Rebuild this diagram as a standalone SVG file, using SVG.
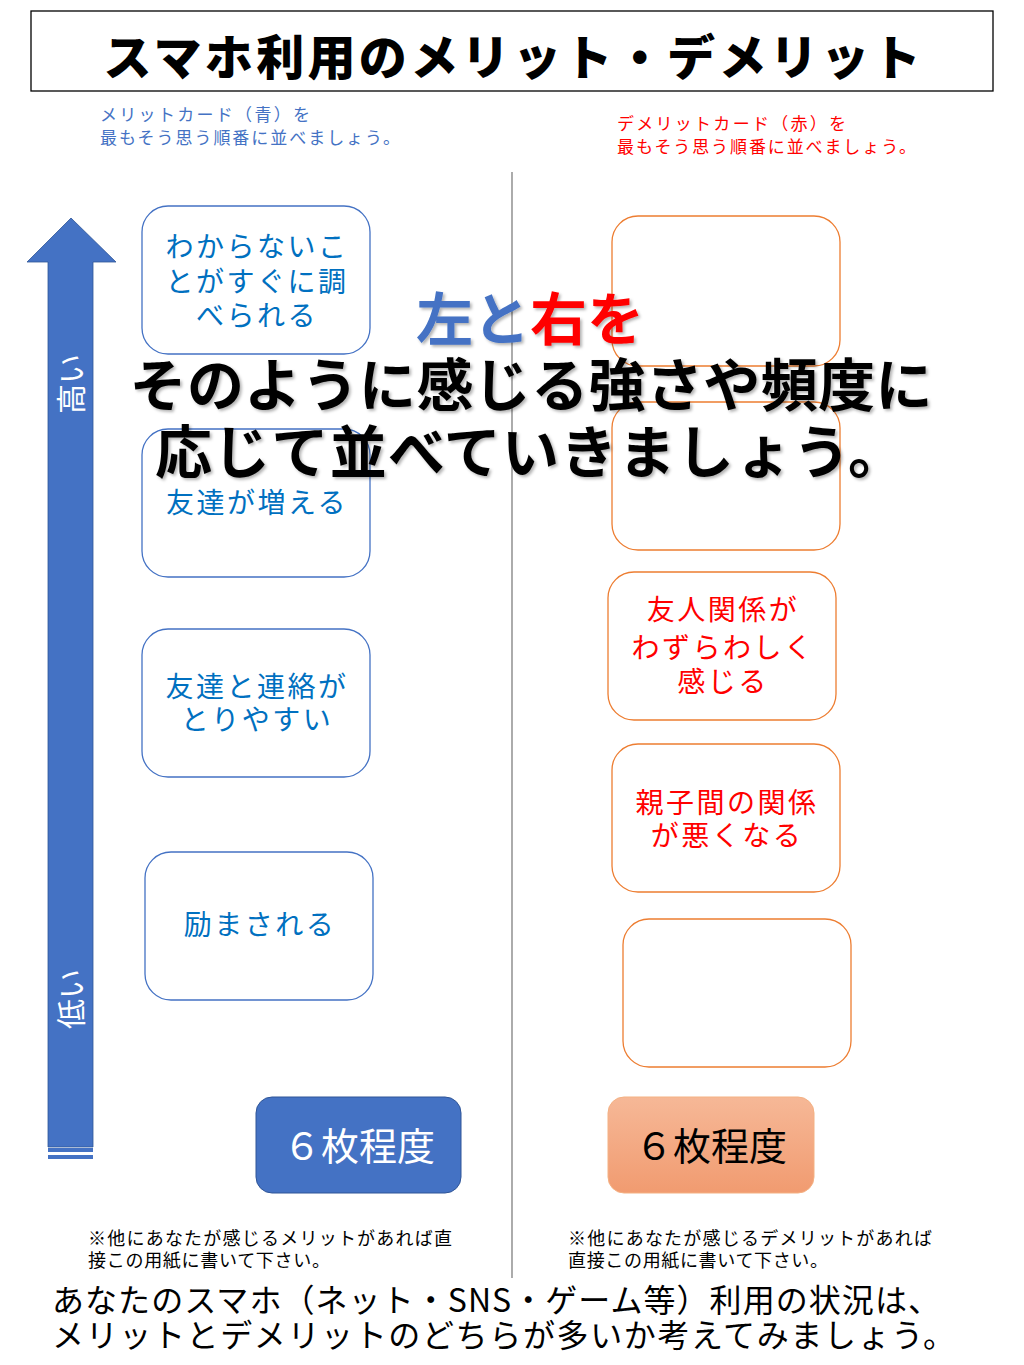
<svg xmlns="http://www.w3.org/2000/svg" width="1024" height="1365" viewBox="0 0 1024 1365">
<style>
text{font-family:"Noto Sans CJK JP","Noto Sans CJK SC",sans-serif;}
.card-b{fill:#fff;stroke:#4472C4;stroke-width:1.3;}
.card-r{fill:#fff;stroke:#ED7D31;stroke-width:1.3;}
.tb{fill:#0070C0;font-size:28px;text-anchor:middle;letter-spacing:2.5px;}
.tr{fill:#FF0000;font-size:28px;text-anchor:middle;letter-spacing:2.5px;}
.note{fill:#000;font-size:18px;}
.big{font-size:57px;font-weight:700;text-anchor:middle;}
</style>
<defs>
<linearGradient id="og" x1="0" y1="0" x2="0" y2="1">
<stop offset="0" stop-color="#F6B897"/>
<stop offset="1" stop-color="#F19B70"/>
</linearGradient>
<filter id="sh" x="-5%" y="-20%" width="110%" height="140%">
<feDropShadow dx="2" dy="2" stdDeviation="1.5" flood-color="#000" flood-opacity="0.3"/>
</filter>
</defs>
<rect width="1024" height="1365" fill="#fff"/>

<g id="title">
<rect x="31" y="11" width="962" height="80" fill="#fff" stroke="#000" stroke-width="1.3"/>
<text x="512" y="75" font-size="48" font-weight="900" text-anchor="middle" textLength="817" lengthAdjust="spacing">スマホ利用のメリット・デメリット</text>
</g>

<g id="instr-left" fill="#4472C4" font-size="17">
<text x="100" y="121" textLength="210" lengthAdjust="spacing">メリットカード（青）を</text>
<text x="100" y="144" textLength="300" lengthAdjust="spacing">最もそう思う順番に並べましょう。</text>
</g>
<g id="instr-right" fill="#FF0000" font-size="17">
<text x="617" y="130" textLength="229" lengthAdjust="spacing">デメリットカード（赤）を</text>
<text x="617" y="153" textLength="299" lengthAdjust="spacing">最もそう思う順番に並べましょう。</text>
</g>

<g id="divider">
<line x1="512" y1="172" x2="512" y2="1278" stroke="#7f7f7f" stroke-width="1.3"/>
</g>

<g id="axis-arrow">
<polygon points="71,218 116,262 93,262 93,1147 48,1147 48,262 27,262" fill="#4472C4" stroke="#2F5597" stroke-width="0.8"/>
<rect x="48" y="1148" width="45" height="4" fill="#4472C4"/>
<rect x="48" y="1155" width="45" height="4" fill="#4472C4"/>
<text transform="translate(82,384) rotate(-90)" fill="#fff" font-size="30" text-anchor="middle">高い</text>
<text transform="translate(82,999) rotate(-90)" fill="#fff" font-size="30" text-anchor="middle">低い</text>
</g>

<g id="card-l1">
<rect class="card-b" x="142" y="206" width="228" height="148" rx="26"/>
<text class="tb" x="257" y="257">わからないこ</text>
<text class="tb" x="257" y="292">とがすぐに調</text>
<text class="tb" x="257" y="326">べられる</text>
</g>
<g id="card-l2">
<rect class="card-b" x="142" y="429" width="228" height="148" rx="26"/>
<text class="tb" x="257" y="513">友達が増える</text>
</g>
<g id="card-l3">
<rect class="card-b" x="142" y="629" width="228" height="148" rx="26"/>
<text class="tb" x="257" y="697">友達と連絡が</text>
<text class="tb" x="257" y="730">とりやすい</text>
</g>
<g id="card-l4">
<rect class="card-b" x="145" y="852" width="228" height="148" rx="26"/>
<text class="tb" x="260" y="935">励まされる</text>
</g>

<g id="card-r1"><rect class="card-r" x="612" y="216" width="228" height="150" rx="26"/></g>
<g id="card-r2"><rect class="card-r" x="612" y="402" width="228" height="148" rx="26"/></g>
<g id="card-r3">
<rect class="card-r" x="608" y="572" width="228" height="148" rx="26"/>
<text class="tr" x="723" y="620">友人関係が</text>
<text class="tr" x="723" y="658">わずらわしく</text>
<text class="tr" x="723" y="692">感じる</text>
</g>
<g id="card-r4">
<rect class="card-r" x="612" y="744" width="228" height="148" rx="26"/>
<text class="tr" x="727" y="813">親子間の関係</text>
<text class="tr" x="727" y="846">が悪くなる</text>
</g>
<g id="card-r5"><rect class="card-r" x="623" y="919" width="228" height="148" rx="26"/></g>

<g id="count-left">
<rect x="256" y="1097" width="205" height="96" rx="16" fill="#4472C4" stroke="#2F5597" stroke-width="1"/>
<text x="359" y="1160" fill="#fff" font-size="38" text-anchor="middle">６枚程度</text>
</g>
<g id="count-right">
<rect x="608" y="1097" width="206" height="96" rx="16" fill="url(#og)" stroke="#F4B183" stroke-width="1"/>
<text x="711" y="1160" fill="#000" font-size="38" text-anchor="middle">６枚程度</text>
</g>

<g id="note-left">
<text class="note" x="88" y="1245" textLength="364" lengthAdjust="spacing">※他にあなたが感じるメリットがあれば直</text>
<text class="note" x="88" y="1267" textLength="242" lengthAdjust="spacing">接この用紙に書いて下さい。</text>
</g>
<g id="note-right">
<text class="note" x="568" y="1245" textLength="364" lengthAdjust="spacing">※他にあなたが感じるデメリットがあれば</text>
<text class="note" x="568" y="1267" textLength="260" lengthAdjust="spacing">直接この用紙に書いて下さい。</text>
</g>

<g id="bottom-text" fill="#000" font-size="32">
<text x="52" y="1312" textLength="888" lengthAdjust="spacing">あなたのスマホ（ネット・SNS・ゲーム等）利用の状況は、</text>
<text x="52" y="1347" textLength="903" lengthAdjust="spacing">メリットとデメリットのどちらが多いか考えてみましょう。</text>
</g>

<g id="overlay" filter="url(#sh)">
<text class="big" x="530" y="340"><tspan fill="#4472C4">左と</tspan><tspan fill="#FF0000">右を</tspan></text>
<text class="big" x="531" y="406" fill="#000" textLength="803" lengthAdjust="spacing">そのように感じる強さや頻度に</text>
<text class="big" x="530" y="473" fill="#000" textLength="750" lengthAdjust="spacing">応じて並べていきましょう。</text>
</g>
</svg>
